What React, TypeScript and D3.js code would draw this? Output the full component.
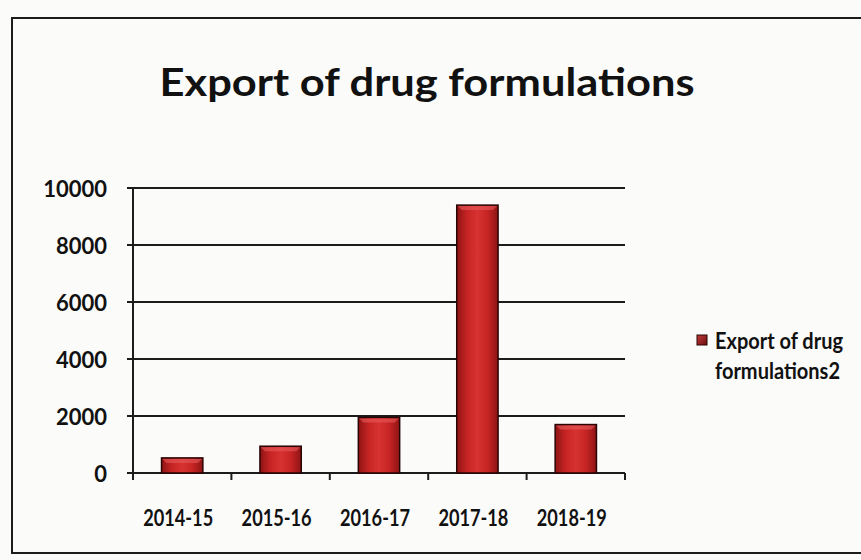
import React from "react";
import * as d3 from "d3";

const categories = ["2014-15", "2015-16", "2016-17", "2017-18", "2018-19"];
const values = [530, 940, 1950, 9400, 1700];
const yTicks = [0, 2000, 4000, 6000, 8000, 10000];
const title = "Export of drug formulations";
const legendLines = ["Export of drug", "formulations2"];

const W = 861;
const H = 560;
const plot = { left: 133, right: 625, top: 188, bottom: 473 };

export default function App() {
  const x = d3.scaleBand<string>().domain(categories).range([plot.left, plot.right]).paddingInner(0.58).paddingOuter(0.29);
  const y = d3.scaleLinear().domain([0, 10000]).range([plot.bottom, plot.top]);
  const step = (plot.right - plot.left) / categories.length;
  const font = "Lato, 'Open Sans', sans-serif";
  const ink = "#1c1c1c";
  return (
    <div style={{ position: "fixed", left: 0, top: 0, width: W, height: H }}>
      <svg width={W} height={H} style={{ display: "block", background: "#fbfbfa" }}>
        <defs>
          <linearGradient id="barGrad" x1="0" x2="1" y1="0" y2="0">
            <stop offset="0%" stopColor="#8e1414" />
            <stop offset="25%" stopColor="#c62424" />
            <stop offset="50%" stopColor="#d83232" />
            <stop offset="75%" stopColor="#c62424" />
            <stop offset="100%" stopColor="#8e1414" />
          </linearGradient>
          <linearGradient id="legGrad" x1="0" x2="1" y1="0" y2="1">
            <stop offset="0%" stopColor="#c43a3a" />
            <stop offset="100%" stopColor="#6a1010" />
          </linearGradient>
        </defs>
        <rect x={12} y={18} width={W + 10} height={535} fill="none" stroke={ink} strokeWidth={2} />
        <text x={427} y={96} textAnchor="middle" fontFamily={font} fontWeight={700} fontSize={39} fill="#111" textLength={535} lengthAdjust="spacingAndGlyphs">{title}</text>
        {yTicks.map((t) => (
          <g key={t}>
            <line x1={plot.left - 6} x2={plot.right} y1={y(t)} y2={y(t)} stroke={ink} strokeWidth={2} />
            <text x={107} y={y(t) + 9} textAnchor="end" fontFamily={font} fontWeight={700} fontSize={22} fill="#111">{t}</text>
          </g>
        ))}
        <line x1={plot.left} x2={plot.left} y1={plot.top} y2={plot.bottom} stroke={ink} strokeWidth={2} />
        {d3.range(categories.length + 1).map((i) => (
          <line key={i} x1={plot.left + i * step} x2={plot.left + i * step} y1={plot.bottom} y2={plot.bottom + 7} stroke={ink} strokeWidth={2} />
        ))}
        {categories.map((c, i) => {
          const bx = x(c)!;
          const bw = x.bandwidth();
          const top = y(values[i]);
          const h = plot.bottom - top;
          return (
            <g key={c}>
              <rect x={bx} y={top} width={bw} height={h} fill="url(#barGrad)" stroke="#2a0505" strokeWidth={1.5} />
              <polygon points={`${bx + 1},${top + 1} ${bx + bw - 1},${top + 1} ${bx + bw - 5},${top + 5} ${bx + 5},${top + 5}`} fill="#e85a5a" opacity={0.6} />
              <text x={bx + bw / 2 - 4} y={526} textAnchor="middle" fontFamily={font} fontWeight={700} fontSize={23} fill="#111" textLength={70} lengthAdjust="spacingAndGlyphs">{c}</text>
            </g>
          );
        })}
        <rect x={697} y={335} width={10} height={10} fill="url(#legGrad)" stroke="#2a0505" strokeWidth={1} />
        {legendLines.map((l, i) => (
          <text key={l} x={715} y={349 + i * 30} fontFamily={font} fontWeight={700} fontSize={22} fill="#111" textLength={i === 0 ? 128 : 125} lengthAdjust="spacingAndGlyphs">{l}</text>
        ))}
      </svg>
    </div>
  );
}
